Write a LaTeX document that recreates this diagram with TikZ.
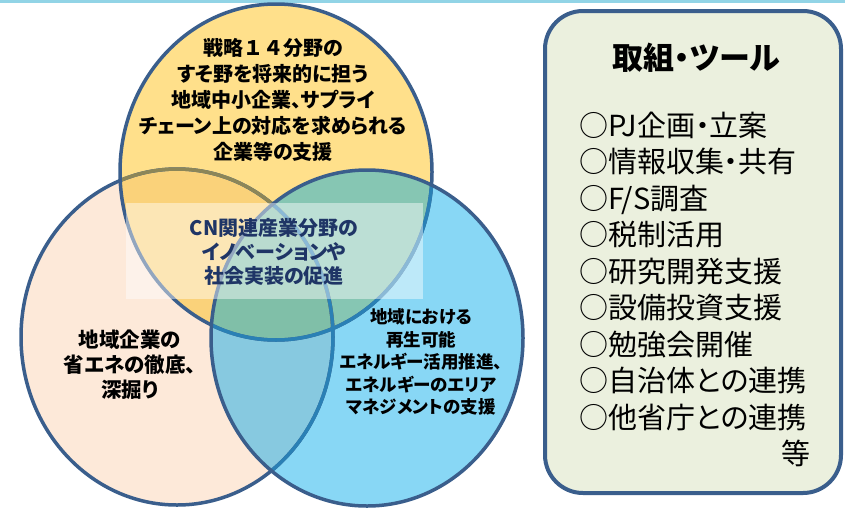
\documentclass[tikz,border=0pt]{standalone}
\usepackage{fontspec}
\setmainfont[RawFeature=+palt]{Noto Sans CJK JP}
\newfontfamily\jpfw{Noto Sans CJK JP}
\definecolor{band}{HTML}{92D4E6}
\definecolor{cP}{HTML}{FDE9D9}
\definecolor{cY}{HTML}{FFE08B}
\definecolor{cB}{HTML}{88D7F5}
\definecolor{cPY}{HTML}{FAD27A}
\definecolor{cPB}{HTML}{87C9E0}
\definecolor{cYB}{HTML}{86C6B3}
\definecolor{cPYB}{HTML}{80BFA8}
\definecolor{bdc}{HTML}{3A5E8C}
\definecolor{olv}{HTML}{8C8658}
\definecolor{tb}{HTML}{2A80B5}
\definecolor{navy}{HTML}{1F3566}
\definecolor{boxfill}{HTML}{EBF0DE}
\tikzset{
  bd/.style={line width=3.5pt},
  circtext/.style={align=center, inner sep=0pt, text=black},
}
\begin{document}
\begin{tikzpicture}[x=1pt,y=-1pt]
\useasboundingbox (0,0) rectangle (845,509);
\fill[white] (0,0) rectangle (845,509);
\fill[band] (0,0) rectangle (845,2.5);
% region fills
\fill[cP] (177,337) ellipse [x radius=156pt, y radius=168pt];
\fill[cY] (276,172) ellipse [x radius=156pt, y radius=168pt];
\fill[cB] (367,338) ellipse [x radius=156pt, y radius=168pt];
\begin{scope}
  \clip (177,337) ellipse [x radius=156pt, y radius=168pt];
  \fill[cPY] (276,172) ellipse [x radius=156pt, y radius=168pt];
  \fill[cPB] (367,338) ellipse [x radius=156pt, y radius=168pt];
\end{scope}
\begin{scope}
  \clip (276,172) ellipse [x radius=156pt, y radius=168pt];
  \fill[cYB] (367,338) ellipse [x radius=156pt, y radius=168pt];
  \clip (177,337) ellipse [x radius=156pt, y radius=168pt];
  \fill[cPYB] (367,338) ellipse [x radius=156pt, y radius=168pt];
\end{scope}
% borders
\draw[bd, draw=bdc] (177,337) ellipse [x radius=156pt, y radius=168pt];
\begin{scope}
  \clip (276,172) ellipse [x radius=156pt, y radius=168pt];
  \draw[bd, draw=olv] (177,337) ellipse [x radius=156pt, y radius=168pt];
\end{scope}
\draw[bd, draw=bdc] (276,172) ellipse [x radius=156pt, y radius=168pt];
\begin{scope}
  \clip (367,338) ellipse [x radius=156pt, y radius=168pt];
  \draw[bd, draw=tb] (177,337) ellipse [x radius=156pt, y radius=168pt];
  \draw[bd, draw=tb] (276,172) ellipse [x radius=156pt, y radius=168pt];
\end{scope}
\draw[bd, draw=bdc] (367,338) ellipse [x radius=156pt, y radius=168pt];
% translucent white band
\fill[white, fill opacity=0.45] (126,203) rectangle (423,299);
% texts in circles
\node[circtext, font=\fontsize{20}{26}\selectfont\bfseries] (top) at (273,100)
  {戦略{\jpfw １４}分野の\\すそ野を将来的に担う\\地域中小企業、サプライ\\チェーン上の対応を求められる\\企業等の支援};
\node[circtext, text=navy, font=\fontsize{20}{24}\selectfont\bfseries] (mid) at (274,252)
  {CN関連産業分野の\\イノベーションや\\社会実装の促進};
\node[circtext, font=\fontsize{20.5}{25}\selectfont\bfseries] (left) at (130,365)
  {地域企業の\\省エネの徹底、\\深掘り};
\node[circtext, font=\fontsize{17.5}{22.5}\selectfont\bfseries] (right) at (421,362)
  {地域における\\再生可能\\エネルギー活用推進、\\エネルギーのエリア\\マネジメントの支援};
% tools box
\draw[line width=4pt, draw=bdc, fill=boxfill, rounded corners=38pt] (545,11) rectangle (841,493);
\node[inner sep=0pt, font=\fontsize{31}{36}\selectfont\bfseries] (title) at (696,58) {取組・ツール};
\node[inner sep=0pt, align=left, anchor=west, font=\fontsize{29}{36.5}\selectfont] (list) at (579,271)
  {○PJ企画・立案\\○情報収集・共有\\○F/S調査\\○税制活用\\○研究開発支援\\○設備投資支援\\○勉強会開催\\○自治体との連携\\○他省庁との連携};
\node[inner sep=0pt, font=\fontsize{29}{36.5}\selectfont] (etc) at (796,453) {等};
\end{tikzpicture}
\end{document}
